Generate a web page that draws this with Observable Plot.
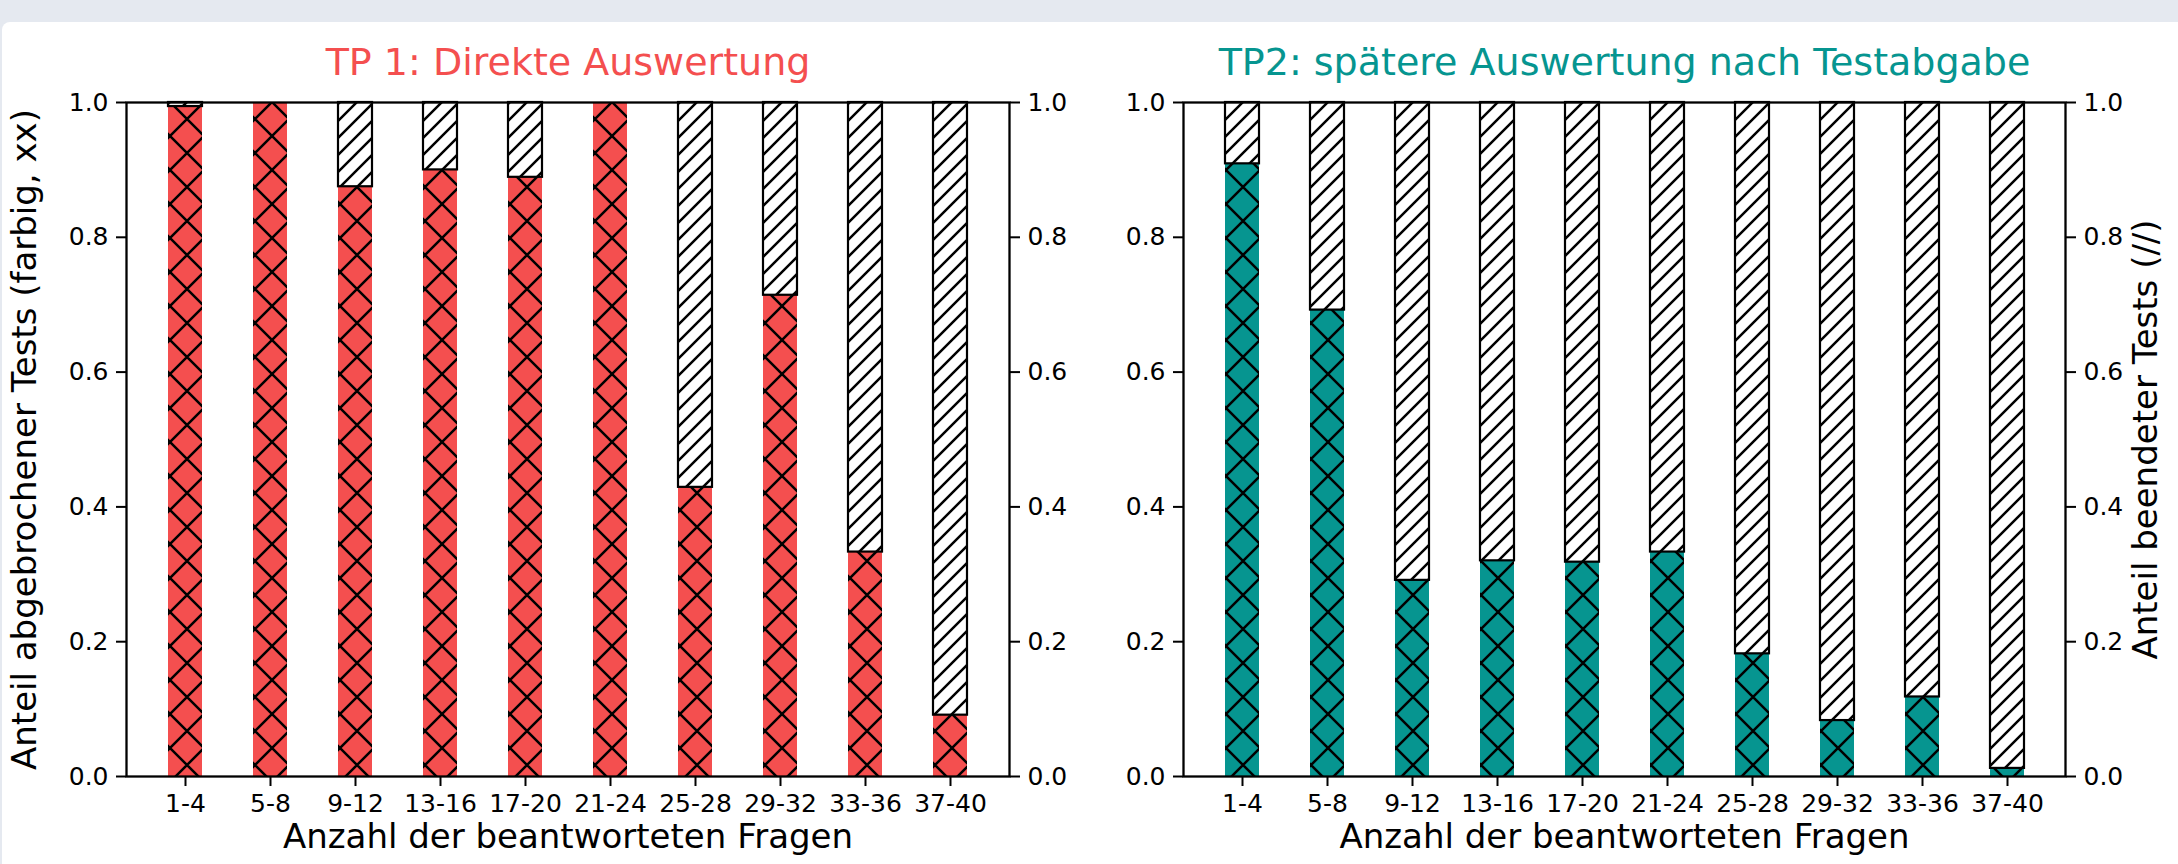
<!DOCTYPE html>
<html><head><meta charset="utf-8">
<script src="https://cdn.jsdelivr.net/npm/d3@7"></script>
<script src="https://cdn.jsdelivr.net/npm/@observablehq/plot@0.6"></script>
<style>
html,body{margin:0;padding:0;background:#e5e9f0;width:2178px;height:864px;overflow:hidden;font-family:"DejaVu Sans",sans-serif;}
#card{position:absolute;left:2px;top:22px;width:2176px;height:842px;background:#fff;border-top-left-radius:8px;}
.panel{position:absolute;top:0;}
</style></head><body>
<div id="card"></div>
<svg id="defs" width="0" height="0" style="position:absolute"><defs id="pdefs"></defs></svg>
<div id="p1" class="panel" style="left:0px"></div>
<div id="p2" class="panel" style="left:1090px"></div>
<script>
// ---- data ----
const categories = ["1-4","5-8","9-12","13-16","17-20","21-24","25-28","29-32","33-36","37-40"];
const tp1Abgebrochen = [0.994, 1.0, 0.875, 0.90, 0.889, 1.0, 0.429, 0.714, 0.333, 0.091];
const tp2Abgebrochen = [0.909, 0.692, 0.291, 0.32, 0.318, 0.333, 0.182, 0.083, 0.118, 0.012];
const yTicks = [0, 0.2, 0.4, 0.6, 0.8, 1.0];
const titles = ["TP 1: Direkte Auswertung", "TP2: spätere Auswertung nach Testabgabe"];
const xLabel = "Anzahl der beantworteten Fragen";
const yLabelLeft = "Anteil abgebrochener Tests (farbig, xx)";
const yLabelRight = "Anteil beendeter Tests (//)";
const colors = ["#f44f4f", "#069590"];

// ---- hatch patterns ----
const XP = 34, SP = 17, HW = 2.5;
let defs = "";
colors.forEach((c, i) => {
  defs += `<pattern id="xx${i}" patternUnits="userSpaceOnUse" width="${XP}" height="${XP}">
    <rect width="${XP}" height="${XP}" fill="${c}"/>
    <path d="M0,0L${XP},${XP}M${-XP/2},${XP/2}L${XP/2},${XP*1.5}M${XP/2},${-XP/2}L${XP*1.5},${XP/2}M0,${XP}L${XP},0M${-XP/2},${XP/2}L${XP/2},${-XP/2}M${XP/2},${XP*1.5}L${XP*1.5},${XP/2}" stroke="#000" stroke-width="${HW}" fill="none"/>
  </pattern>`;
});
defs += `<pattern id="sl" patternUnits="userSpaceOnUse" width="${SP}" height="${SP}">
  <rect width="${SP}" height="${SP}" fill="#fff"/>
  <path d="M0,${SP}L${SP},0M${-SP/2},${SP/2}L${SP/2},${-SP/2}M${SP/2},${SP*1.5}L${SP*1.5},${SP/2}" stroke="#000" stroke-width="${HW}" fill="none"/>
</pattern>`;
document.getElementById("pdefs").innerHTML = defs;

function panel(i, values, width, ml, mr) {
  const rows = categories.map((c, j) => ({cat: c, v: values[j]}));
  const fmt = d3.format(".1f");
  const marks = [
    Plot.barY(rows, {x: "cat", y1: 0, y2: "v", fill: `url(#xx${i})`}),
    Plot.barY(rows, {x: "cat", y1: "v", y2: 1, fill: "url(#sl)", stroke: "#000", strokeWidth: 2.2}),
    Plot.frame({stroke: "#000", strokeWidth: 2.3}),
    Plot.axisX({tickSize: 10, tickPadding: 8, label: null, strokeWidth: 2}),
    Plot.axisY({anchor: "left", ticks: yTicks, tickFormat: fmt, tickSize: 10, tickPadding: 8, label: null, strokeWidth: 2}),
    Plot.axisY({anchor: "right", ticks: yTicks, tickFormat: fmt, tickSize: 10, tickPadding: 8, label: null, strokeWidth: 2}),
    Plot.text([titles[i]], {text: d => d, frameAnchor: "top", lineAnchor: "middle", textAnchor: "middle", dy: -40, fill: colors[i], fontSize: 38}),
    Plot.text([xLabel], {text: d => d, frameAnchor: "bottom", lineAnchor: "middle", textAnchor: "middle", dy: 61, fill: "#000", fontSize: 34})
  ];
  if (i === 0) marks.push(Plot.text([yLabelLeft], {text: d => d, frameAnchor: "left", lineAnchor: "middle", textAnchor: "middle", dx: -101, rotate: -90, fill: "#000", fontSize: 34}));
  else marks.push(Plot.text([yLabelRight], {text: d => d, frameAnchor: "right", lineAnchor: "middle", textAnchor: "middle", dx: 81, rotate: -90, fill: "#000", fontSize: 34}));
  return Plot.plot({
    width, height: 864,
    marginLeft: ml, marginRight: mr, marginTop: 102, marginBottom: 88,
    style: {fontFamily: "DejaVu Sans", fontSize: "25px", color: "#000", background: "transparent", overflow: "visible"},
    x: {domain: categories, paddingInner: 0.6, paddingOuter: 0.47},
    y: {domain: [0, 1]},
    marks
  });
}
document.getElementById("p1").appendChild(panel(0, tp1Abgebrochen, 1090, 126, 81));
document.getElementById("p2").appendChild(panel(1, tp2Abgebrochen, 1088, 93, 113));
</script>
</body></html>
